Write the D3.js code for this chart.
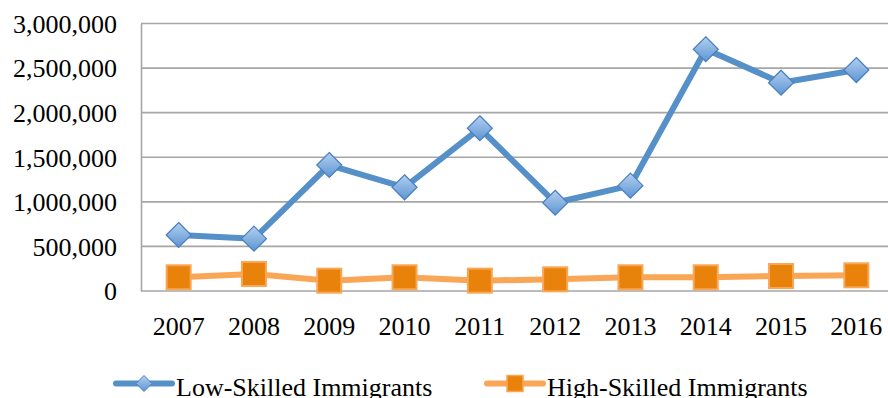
<!DOCTYPE html>
<html>
<head>
<meta charset="utf-8">
<script src="https://cdn.jsdelivr.net/npm/d3@7"></script>
<style>
  html, body { margin: 0; padding: 0; background: #fff; }
  svg { display: block; }
  svg text { font-family: "Times New Roman", "Liberation Serif", "DejaVu Serif", serif !important; fill: #000; }
</style>
</head>
<body>
<svg id="chart" width="888" height="398"></svg>
<script>
// Annual immigrant counts by skill level
const years = ["2007", "2008", "2009", "2010", "2011", "2012", "2013", "2014", "2015", "2016"];
const lowSkilled  = [628000, 587000, 1413000, 1163000, 1825000, 990000, 1181000, 2711000, 2336000, 2478000];
const highSkilled = [154000, 191000, 116000, 154000, 116000, 131000, 154000, 154000, 168000, 176000];
const yTicks = [0, 500000, 1000000, 1500000, 2000000, 2500000, 3000000];
const seriesNames = ["Low-Skilled Immigrants", "High-Skilled Immigrants"];

const svg = d3.select("#chart");
const margin = { left: 141, top: 23.5, bottom: 291, right: 894 };

const x = d3.scaleBand().domain(years).range([margin.left, margin.right]);
const y = d3.scaleLinear().domain([0, 3000000]).range([margin.bottom, margin.top]);
const cx = d => x(d) + x.bandwidth() / 2;

const defs = svg.append("defs");
const grad = defs.append("linearGradient").attr("id", "diamondFill")
  .attr("x1", 0).attr("y1", 0).attr("x2", 0).attr("y2", 1);
grad.append("stop").attr("offset", "0%").attr("stop-color", "#b3cff0");
grad.append("stop").attr("offset", "100%").attr("stop-color", "#5d95d3");

// Horizontal gridlines
svg.append("g").selectAll("line").data(yTicks).join("line")
  .attr("x1", margin.left).attr("x2", 888)
  .attr("y1", d => y(d)).attr("y2", d => y(d))
  .attr("stroke", "#a6a6a6").attr("stroke-width", 1.6);

// Y axis
const yAxis = d3.axisLeft(y).tickValues(yTicks).tickSize(0).tickPadding(24)
  .tickFormat(d3.format(","));
const gy = svg.append("g").attr("transform", `translate(${margin.left},0)`).call(yAxis)
  .attr("font-family", null);
gy.select(".domain").attr("stroke", "#a6a6a6").attr("stroke-width", 1.6);
gy.selectAll("text").attr("font-size", 26).attr("dy", "0.34em").attr("fill", "#000");

// X axis labels
const xAxis = d3.axisBottom(x).tickSize(0).tickPadding(0);
const gx = svg.append("g").attr("transform", `translate(0,${margin.bottom})`).call(xAxis)
  .attr("font-family", null);
gx.select(".domain").remove();
gx.selectAll("text").attr("font-size", 26).attr("y", 44).attr("dy", 0).attr("fill", "#000");

const line = d3.line().x((d, i) => cx(years[i])).y(d => y(d));

// High-skilled series
svg.append("path").datum(highSkilled).attr("d", line)
  .attr("fill", "none").attr("stroke", "#f9a656").attr("stroke-width", 6)
  .attr("stroke-linejoin", "round");

// Low-skilled series
svg.append("path").datum(lowSkilled).attr("d", line)
  .attr("fill", "none").attr("stroke", "#5690c9").attr("stroke-width", 6)
  .attr("stroke-linejoin", "round");

const diamond = r => `M0,${-r}L${r},0L0,${r}L${-r},0Z`;

svg.append("g").selectAll("path").data(lowSkilled).join("path")
  .attr("transform", (d, i) => `translate(${cx(years[i])},${y(d)})`)
  .attr("d", diamond(12.5))
  .attr("fill", "url(#diamondFill)").attr("stroke", "#4a7fbd").attr("stroke-width", 1.2);

svg.append("g").selectAll("rect").data(highSkilled).join("rect")
  .attr("x", (d, i) => cx(years[i]) - 12).attr("y", d => y(d) - 12)
  .attr("width", 24).attr("height", 24)
  .attr("fill", "#e9820b").attr("stroke", "#f9a656").attr("stroke-width", 2);

// Legend
const legendY = 383.5;
const legend = [
  { x0: 116, x1: 172, text: 176, color: "#5690c9", marker: "diamond" },
  { x0: 487, x1: 543, text: 547, color: "#f9a656", marker: "square" }
];
legend.forEach((l, i) => {
  const g = svg.append("g");
  g.append("line").attr("x1", l.x0).attr("x2", l.x1).attr("y1", legendY).attr("y2", legendY)
    .attr("stroke", l.color).attr("stroke-width", 6).attr("stroke-linecap", "round");
  const mx = (l.x0 + l.x1) / 2;
  if (l.marker === "diamond") {
    g.append("path").attr("transform", `translate(${mx},${legendY})`).attr("d", diamond(8))
      .attr("fill", "url(#diamondFill)").attr("stroke", "#4a7fbd").attr("stroke-width", 1);
  } else {
    g.append("rect").attr("x", mx - 8).attr("y", legendY - 8).attr("width", 16).attr("height", 16)
      .attr("fill", "#e9820b").attr("stroke", "#f9a656").attr("stroke-width", 1.5);
  }
  g.append("text").attr("x", l.text).attr("y", 396).attr("font-size", 26).text(seriesNames[i]);
});
</script>
</body>
</html>
